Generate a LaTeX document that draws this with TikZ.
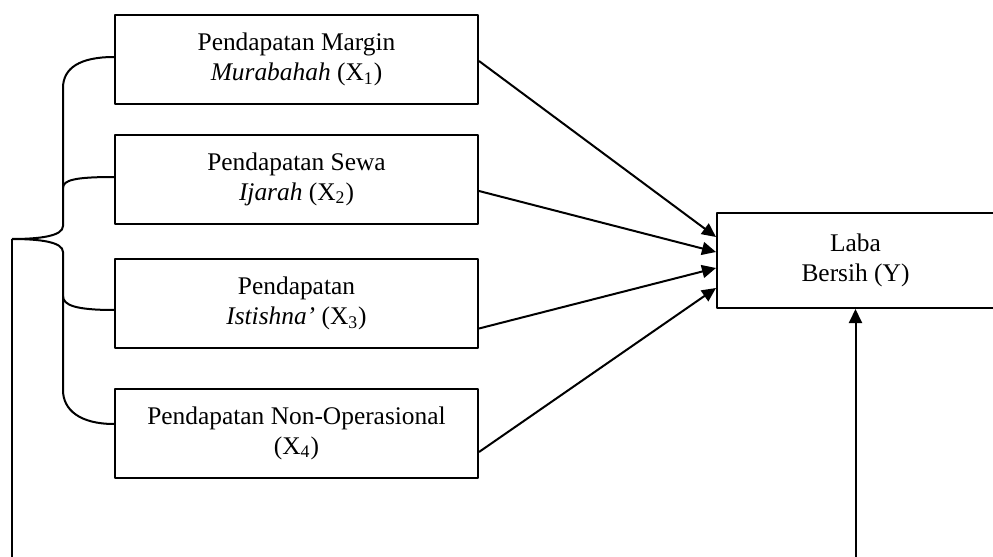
\documentclass[tikz,border=0pt]{standalone}
\usepackage{fontspec}
\setmainfont{Liberation Serif}
\usetikzlibrary{arrows.meta,calc}
\tikzset{
	kotak/.style={draw, minimum width=181.5pt, minimum height=44.5pt,
		align=center, inner sep=2pt, font=\fontsize{12.7}{15}\selectfont},
}
\begin{document}
\begin{tikzpicture}[x=0.5pt, y=-0.5pt, >={Triangle[length=7pt,width=6.5pt]}, line width=1pt, line join=round]
	
	\useasboundingbox (0,0) rectangle (993,557);
	
	% Variabel bebas
	\node[kotak] (x1) at (296.5,59.5) {Pendapatan Margin\\\textit{Murabahah} (X\textsubscript{1})};
	\node[kotak] (x2) at (296.5,179) {Pendapatan Sewa\\\textit{Ijarah} (X\textsubscript{2})};
	\node[kotak] (x3) at (296.5,303.5) {Pendapatan\\\textit{Istishna'} (X\textsubscript{3})};
	\node[kotak] (x4) at (296.5,433) {Pendapatan Non-Operasional\\(X\textsubscript{4})};
	
	% Variabel terikat
	\node[kotak, minimum width=138.5pt, minimum height=47.5pt] (y) at (855.5,260.5) {Laba\\Bersih (Y)};
	
	% Kurung kurawal
	\coordinate (ujung) at (12,239);
	\draw ($(x1.west)+(0,-2.5)$) .. controls (80,57) and (63,68) .. (63,88) -- (63,226)
		.. controls (63,236) and (40,239) .. (ujung);
	\draw ($(x2.west)+(0,-2)$) .. controls (75,177) and (63,180) .. (63,188);
	\draw ($(x3.west)+(0,6.5)$) .. controls (75,310) and (63,305) .. (63,296);
	\draw ($(x4.west)+(0,-9)$) .. controls (80,424) and (63,410) .. (63,390) -- (63,252)
		.. controls (63,242) and (40,239) .. (ujung);
	
	% Panah ke Y
	\draw[->] ($(x1.east)+(0,1.5)$) -- ($(y.west)+(0,-23.5)$);
	\draw[->] ($(x2.east)+(0,12)$) -- ($(y.west)+(0,-8.5)$);
	\draw[->] ($(x3.east)+(0,25)$) -- ($(y.west)+(0,7.5)$);
	\draw[->] ($(x4.east)+(0,19)$) -- ($(y.west)+(0,27.5)$);
	
	% Garis bawah
	\coordinate (bawahkiri) at (12,575);
	\coordinate (bawahkanan) at (855.5,575);
	\draw (ujung) -- (bawahkiri);
	\draw[->] (bawahkanan) -- (y.south);
	
\end{tikzpicture}
\end{document}
